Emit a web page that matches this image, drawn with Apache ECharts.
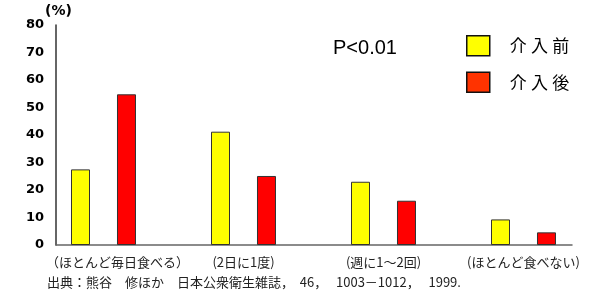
<!DOCTYPE html>
<html><head><meta charset="utf-8">
<script src="https://cdn.jsdelivr.net/npm/echarts@6/dist/echarts.min.js"></script>
<style>html,body{margin:0;padding:0;background:#fff}#c{width:600px;height:300px}</style>
</head><body><div id="c"></div>
<script>
var categories = ['（ほとんど毎日食べる）', '(2日に1度)', '(週に1～2回)', '(ほとんど食べない)'];
var seriesNames = ['介入前', '介入後'];
var before = [27.5, 41.2, 23.0, 9.3];
var after = [54.8, 25.1, 16.1, 4.6];
var yTicks = {min: 0, max: 80, interval: 10};
var sourceText = '出典：熊谷　修ほか　日本公衆衛生雑誌，  46，   1003－1012，   1999.';
var pText = 'P<0.01';

var chart = echarts.init(document.getElementById('c'), null, {renderer: 'canvas'});
var jp = '"Noto Sans CJK JP", sans-serif';
var boldNum = '"DejaVu Sans", Verdana, sans-serif';
chart.setOption({
  animation: false,
  backgroundColor: '#fff',
  grid: [
    {left: 56, right: 28, top: 25, bottom: 55},
    {left: 33.5, right: 6.5, top: 25, bottom: 55}
  ],
  xAxis: [
    {gridIndex: 0, type: 'category', data: categories,
     axisLine: {show: true, lineStyle: {color: '#666', width: 1.5}},
     axisTick: {show: false}, axisLabel: {show: false}},
    {gridIndex: 1, type: 'category', data: categories,
     axisLine: {show: false}, axisTick: {show: false},
     axisLabel: {show: true, interval: 0, margin: 11, fontSize: 13, color: '#222', fontFamily: jp,
       formatter: function (v, i) { return i === 0 ? '{a|' + v + '}' : v; },
       rich: {a: {padding: [0, 0, 0, 28], fontSize: 13, color: '#222', fontFamily: jp}}}}
  ],
  yAxis: [
    {gridIndex: 0, type: 'value', min: yTicks.min, max: yTicks.max, interval: yTicks.interval,
     name: '(%)', nameLocation: 'end', nameGap: 5,
     nameTextStyle: {fontSize: 14, fontWeight: 'bold', color: '#000', fontFamily: boldNum, align: 'center', padding: [0, 0, 0, 5]},
     axisLine: {show: true, lineStyle: {color: '#333', width: 1.5}},
     axisTick: {show: false}, splitLine: {show: false},
     axisLabel: {margin: 12, fontSize: 13, fontWeight: 'bold', color: '#000', fontFamily: boldNum}},
    {gridIndex: 1, type: 'value', min: yTicks.min, max: yTicks.max, interval: yTicks.interval, show: false}
  ],
  legend: {
    orient: 'vertical', left: 466, top: 35, padding: 0, itemWidth: 23, itemHeight: 20, itemGap: 15,
    icon: 'rect',
    data: [
      {name: seriesNames[0], itemStyle: {color: '#ffff00', borderColor: '#111', borderWidth: 1.5}},
      {name: seriesNames[1], itemStyle: {color: '#ff3300', borderColor: '#111', borderWidth: 1.5}}
    ],
    formatter: function (n) { return n.split('').join('\u2005'); },
    textStyle: {fontSize: 17, color: '#000', fontFamily: jp, padding: [0, 0, 0, 15]}
  },
  title: [
    {text: sourceText, left: 47, top: 276, padding: 0,
     textStyle: {fontSize: 13, fontWeight: 'normal', color: '#222', fontFamily: jp}},
    {text: pText, left: 333, top: 38, padding: 0,
     textStyle: {fontSize: 20, fontWeight: 'normal', color: '#000', fontFamily: '"Liberation Sans", Arial'}}
  ],
  series: [
    {name: seriesNames[0], type: 'bar', xAxisIndex: 1, yAxisIndex: 1, data: before,
     barWidth: 19, barGap: '142%',
     itemStyle: {color: '#ffff00', borderColor: '#333', borderWidth: 1}},
    {name: seriesNames[1], type: 'bar', xAxisIndex: 1, yAxisIndex: 1, data: after,
     barWidth: 19, barGap: '142%',
     itemStyle: {color: '#ff0000', borderColor: '#333', borderWidth: 1}}
  ]
});
</script></body></html>
